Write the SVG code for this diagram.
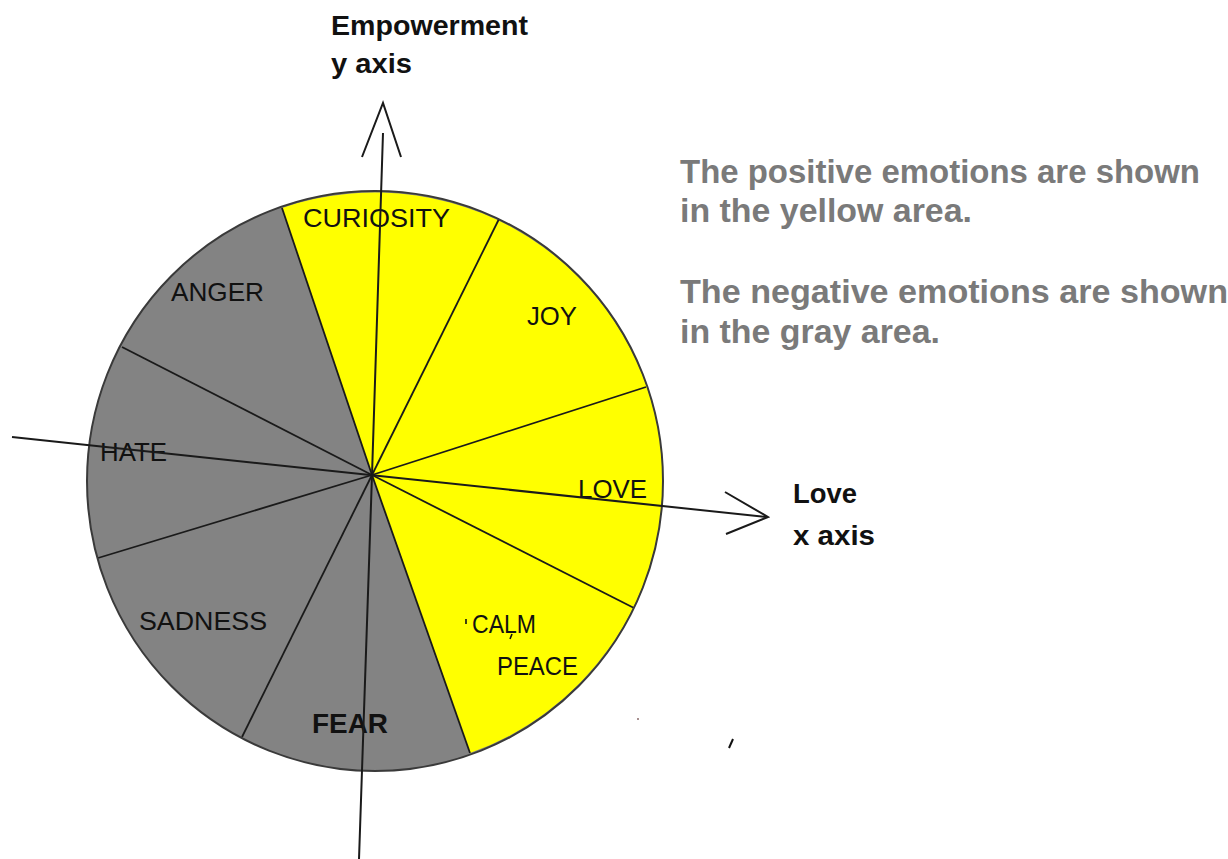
<svg xmlns="http://www.w3.org/2000/svg" width="1228" height="859" viewBox="0 0 1228 859">
<style>
.lbl{font-family:"Liberation Sans",Arial,sans-serif;font-size:26px;fill:#111}
.bold{font-family:"Liberation Sans",Arial,sans-serif;font-weight:bold;font-size:28px;fill:#111}
.note{font-family:"Liberation Sans",Arial,sans-serif;font-weight:bold;font-size:33px;fill:#7a7a7a}
.spoke{stroke:#1a1a1a;stroke-width:1.8;fill:none}
.axis{stroke:#1a1a1a;stroke-width:2;fill:none;stroke-linejoin:miter}
</style>
<rect width="1228" height="859" fill="#ffffff"/>
<g id="pie">
<ellipse cx="375" cy="481" rx="288" ry="290" fill="#838383"/>
<path d="M372 475 L282 208 A288 290 0 0 1 663 481 A288 290 0 0 1 470 753 Z" fill="#ffff00"/>
<g id="spokes">
<line class="spoke" x1="372" y1="475" x2="282" y2="208"/>
<line class="spoke" x1="372" y1="475" x2="499" y2="219"/>
<line class="spoke" x1="372" y1="475" x2="646" y2="387"/>
<line class="spoke" x1="372" y1="475" x2="634" y2="608"/>
<line class="spoke" x1="372" y1="475" x2="470" y2="753"/>
<line class="spoke" x1="372" y1="475" x2="242" y2="737"/>
<line class="spoke" x1="372" y1="475" x2="98" y2="558"/>
<line class="spoke" x1="372" y1="475" x2="122" y2="347"/>
</g>
<ellipse cx="375" cy="481" rx="288" ry="290" fill="none" stroke="#3a3a3a" stroke-width="2"/>
</g>
<g id="labels">
<text id="curiosity" class="lbl" x="303" y="227" textLength="147" lengthAdjust="spacingAndGlyphs">CURIOSITY</text>
<text id="anger" class="lbl" x="171" y="301" textLength="93" lengthAdjust="spacingAndGlyphs">ANGER</text>
<text id="hate" class="lbl" x="100" y="461" textLength="67" lengthAdjust="spacingAndGlyphs">HATE</text>
<text id="joy" class="lbl" x="527" y="325" textLength="50" lengthAdjust="spacingAndGlyphs">JOY</text>
<text id="love" class="lbl" x="578" y="498" textLength="69" lengthAdjust="spacingAndGlyphs">LOVE</text>
<text id="calm" class="lbl" x="472" y="633" font-size="23" textLength="64" lengthAdjust="spacingAndGlyphs">CALM</text>
<text id="peace" class="lbl" x="497" y="675" font-size="24" textLength="81" lengthAdjust="spacingAndGlyphs">PEACE</text>
<text id="sadness" class="lbl" x="139" y="630" textLength="128" lengthAdjust="spacingAndGlyphs">SADNESS</text>
<text id="fear" class="bold" x="312" y="733" textLength="76" lengthAdjust="spacingAndGlyphs">FEAR</text>
<path d="M466 619 L466 624 M512 634 L510 639" stroke="#111" stroke-width="1.6"/>
</g>
<g id="connectors">
<polyline id="y-axis" class="axis" points="383,133 372,475 359,859"/>
<polyline id="y-arrow" class="axis" points="362,157 383,103 401,157"/>
<line id="x-axis" class="axis" x1="12" y1="437" x2="766" y2="517"/>
<polyline id="x-arrow" class="axis" points="725,492 768,517 726,534"/>
</g>
<g id="y-label">
<text class="bold" x="331" y="35" textLength="197" lengthAdjust="spacingAndGlyphs">Empowerment</text>
<text class="bold" x="331" y="73" textLength="81" lengthAdjust="spacingAndGlyphs">y axis</text>
</g>
<g id="x-label">
<text class="bold" x="793" y="503" textLength="64" lengthAdjust="spacingAndGlyphs">Love</text>
<text class="bold" x="793" y="545" textLength="82" lengthAdjust="spacingAndGlyphs">x axis</text>
</g>
<g id="notes">
<text class="note" x="680" y="183" textLength="520" lengthAdjust="spacingAndGlyphs">The positive emotions are shown</text>
<text class="note" x="680" y="222" textLength="292" lengthAdjust="spacingAndGlyphs">in the yellow area.</text>
<text class="note" x="680" y="303" textLength="548" lengthAdjust="spacingAndGlyphs">The negative emotions are shown</text>
<text class="note" x="680" y="343" textLength="260" lengthAdjust="spacingAndGlyphs">in the gray area.</text>
</g>
<g id="marks">
<circle cx="638" cy="719" r="1" fill="#8a6a6a"/>
<line x1="729" y1="748" x2="733" y2="739" stroke="#111" stroke-width="2"/>
</g>
</svg>
